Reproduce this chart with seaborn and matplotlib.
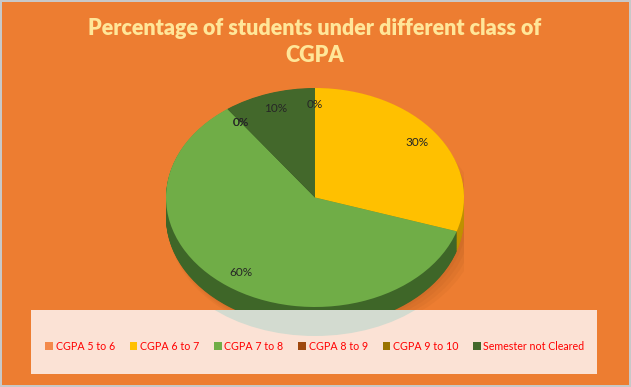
import numpy as np
import matplotlib
matplotlib.use("Agg")
import matplotlib.pyplot as plt
import seaborn as sns
from matplotlib.patches import Rectangle, Ellipse, Patch

categories = ["CGPA 5 to 6", "CGPA 6 to 7", "CGPA 7 to 8", "CGPA 8 to 9",
              "CGPA 9 to 10", "Semester not Cleared"]
values = [0, 30, 60, 0, 0, 10]
title = "Percentage of students under different class of\nCGPA"

sns.set_theme(style="white")
plt.rcParams["font.family"] = ["Lato", "DejaVu Sans"]

top_colors = sns.color_palette(["#ED7D31", "#FFC000", "#70AD47", "#9E480E", "#997300", "#43682B"])
side_colors = sns.color_palette(["#B85F22", "#BF9000", "#3E6628", "#763608", "#725600", "#2F4A1F"])
legend_colors = ["#F4894A", "#FFC000", "#70AD47", "#9E480E", "#997300", "#43682B"]

W, H = 631, 387
BG = "#ED7D31"
fig = plt.figure(figsize=(W / 100, H / 100), dpi=100)
fig.patch.set_facecolor(BG)
fig.patch.set_edgecolor("#C8C8C8")
fig.patch.set_linewidth(1.5)

# pie geometry (pixels)
cx, cy, rx, ry, depth = 315, 197.5, 149, 109.5, 20
left, right = cx - rx, cx + rx
top, bottom = cy - ry, cy + ry + depth
d = depth / ry

ax = fig.add_axes([left / W, 1 - bottom / H, (right - left) / W, (bottom - top) / H], zorder=1)
ax.patch.set_alpha(0)

# soft shadow
for i in range(4):
    e = Ellipse((0.02 + 0.012 * i, -d - 0.01 - 0.01 * i), 2 + 0.03 * i, 2 + 0.03 * i,
                facecolor="#6B2F08", alpha=0.05, edgecolor="none", zorder=0)
    ax.add_patch(e)

# extruded side
for off in np.linspace(d, 0.005, 30):
    ax.pie(values, colors=side_colors, startangle=90, counterclock=False,
           radius=1, center=(0, -off), wedgeprops=dict(linewidth=0))

# top face
wedges, texts, autotexts = ax.pie(values, colors=top_colors, startangle=90, counterclock=False,
                                  radius=1, center=(0, 0), autopct="%1.0f%%", pctdistance=0.85,
                                  wedgeprops=dict(linewidth=0),
                                  textprops=dict(color="#262626", fontsize=8.5))
ax.set_aspect("auto")
ax.set_xlim(-1, 1)
ax.set_ylim(-1 - d, 1)
ax.axis("off")

# overlay: legend box and reflection
ov = fig.add_axes([0, 0, 1, 1], zorder=2)
ov.set_xlim(0, W)
ov.set_ylim(H, 0)
ov.axis("off")
ov.patch.set_alpha(0)
box = Rectangle((31, 310), 566, 64, facecolor="#FBE2D5", edgecolor="none")
ov.add_patch(box)
refl = Ellipse((cx, 236), 2 * rx, 200, facecolor="#D3DBD0", edgecolor="none")
ov.add_patch(refl)
refl.set_clip_path(box)

# title
fig.text(315 / W, 1 - 42 / H, title, ha="center", va="center", fontsize=15.5,
         fontweight="heavy", color="#FFE699", linespacing=1.32)

handles = [Patch(facecolor=c, edgecolor="none") for c in legend_colors]
leg = fig.legend(handles, categories, loc="center", bbox_to_anchor=(315 / W, 1 - 346 / H),
                 ncol=6, frameon=False, handlelength=0.7, handleheight=0.7,
                 handletextpad=0.25, columnspacing=1.4, fontsize=7.7, labelcolor="#FF0000")
leg.set_zorder(5)

fig.savefig("out.png", dpi=100, facecolor=BG, edgecolor=fig.patch.get_edgecolor())
